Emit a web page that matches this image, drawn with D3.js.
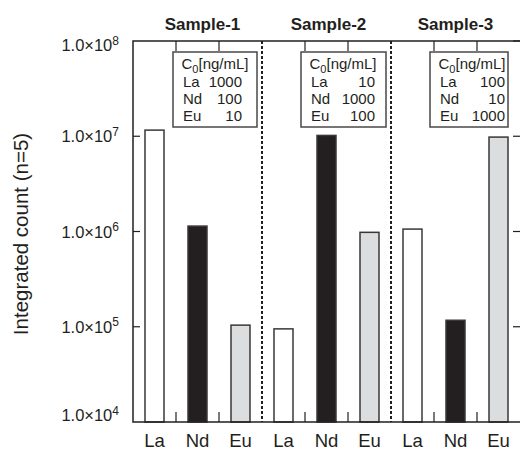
<!DOCTYPE html>
<html>
<head>
<meta charset="utf-8">
<script src="https://cdn.jsdelivr.net/npm/d3@7"></script>
<style>
  body { margin: 0; background: #fff; }
  text { font-family: "Liberation Sans", Arial, sans-serif; fill: #231f20; }
</style>
</head>
<body>
<div id="chart"></div>
<script>
var samples = ["Sample-1", "Sample-2", "Sample-3"];
var elements = ["La", "Nd", "Eu"];
// integrated counts per sample, in element order
var counts = [
  [1.16e7, 1.14e6, 1.04e5],
  [9.5e4, 1.02e7, 9.8e5],
  [1.06e6, 1.17e5, 9.8e6]
];
// C0 [ng/mL] per sample, in element order
var conc = [
  [1000, 100, 10],
  [10, 1000, 100],
  [100, 10, 1000]
];
var yTicks = [1e4, 1e5, 1e6, 1e7, 1e8];
var yTickExp = [4, 5, 6, 7, 8];

var W = 520, H = 455;
var pLeft = 133, pRight = 520, pTop = 41, pBottom = 422;
var ink = "#231f20";
var fills = {La: "#ffffff", Nd: "#231f20", Eu: "#dcdddf"};

var svg = d3.select("#chart").append("svg")
  .attr("width", W)
  .attr("height", H);

var rows = [];
samples.forEach(function(s, i) {
  elements.forEach(function(e, j) {
    rows.push({sample: s, el: e, key: s + "|" + e, value: counts[i][j]});
  });
});

var x = d3.scaleBand()
  .domain(rows.map(function(d) { return d.key; }))
  .range([pLeft, pRight])
  .paddingInner(0.558)
  .paddingOuter(0.279);
var step = x.step();

var y = d3.scaleLog().domain([1e4, 1e8]).range([pBottom, pTop]);

//bars
svg.selectAll(".bar")
  .data(rows)
  .enter().append("rect")
  .attr("class", "bar")
  .attr("x", function(d) { return x(d.key); })
  .attr("width", x.bandwidth())
  .attr("y", function(d) { return y(d.value); })
  .attr("height", function(d) { return y(1e4) - y(d.value); })
  .style("fill", function(d) { return fills[d.el]; })
  .style("stroke", "#3a3738")
  .style("stroke-width", 1.5);

//frame
svg.append("path")
  .attr("d", "M" + pRight + "," + pTop + "H" + pLeft + "V" + pBottom + "H" + pRight)
  .style("fill", "none")
  .style("stroke", ink)
  .style("stroke-width", 1.5);

//slot boundaries: ticks at top and bottom, dotted between samples
var bounds = d3.range(1, 9).map(function(k) { return pLeft + k * step; });
bounds.forEach(function(bx, k) {
  if ((k + 1) % 3 === 0) {
    svg.append("line")
      .attr("x1", bx).attr("x2", bx)
      .attr("y1", pTop).attr("y2", pBottom)
      .style("stroke", ink)
      .style("stroke-width", 2)
      .style("stroke-dasharray", "3,2");
  } else {
    svg.append("line")
      .attr("x1", bx).attr("x2", bx)
      .attr("y1", pTop).attr("y2", pTop + 10)
      .style("stroke", ink).style("stroke-width", 1.2);
    svg.append("line")
      .attr("x1", bx).attr("x2", bx)
      .attr("y1", pBottom).attr("y2", pBottom - 10)
      .style("stroke", ink).style("stroke-width", 1.2);
  }
});

//y ticks, left and right
yTicks.forEach(function(t, i) {
  if (i > 0 && i < yTicks.length - 1) {
    svg.append("line")
      .attr("x1", pLeft).attr("x2", pLeft + 7)
      .attr("y1", y(t)).attr("y2", y(t))
      .style("stroke", ink).style("stroke-width", 1.2);
  }
  if (i > 0) {
    svg.append("line")
      .attr("x1", pRight).attr("x2", pRight - 7)
      .attr("y1", y(t)).attr("y2", y(t))
      .style("stroke", ink).style("stroke-width", 1.2);
  }
  var dy = i === 0 ? -1 : (i === yTicks.length - 1 ? 10 : 6);
  var lab = svg.append("text")
    .attr("x", pLeft - 14)
    .attr("y", y(t) + dy)
    .style("text-anchor", "end")
    .style("font-size", "16.5px");
  lab.append("tspan").text("1.0\u00d710");
  lab.append("tspan")
    .attr("dy", -6.5)
    .style("font-size", "12px")
    .text(yTickExp[i]);
});

//y axis label
svg.append("text")
  .attr("transform", "translate(28," + 234 + ") rotate(-90)")
  .style("text-anchor", "middle")
  .style("font-size", "20.5px")
  .text("Integrated count (n=5)");

//category labels
svg.selectAll(".cat")
  .data(rows)
  .enter().append("text")
  .attr("class", "cat")
  .attr("x", function(d) { return x(d.key) + x.bandwidth() / 2; })
  .attr("y", 447)
  .style("text-anchor", "middle")
  .style("font-size", "18.5px")
  .text(function(d) { return d.el; });

//sample titles
var titleDx = [5, 2, 0];
samples.forEach(function(s, i) {
  svg.append("text")
    .attr("x", pLeft + step * (3 * i + 1.5) + titleDx[i])
    .attr("y", 30)
    .style("text-anchor", "middle")
    .style("font-size", "17px")
    .style("font-weight", "bold")
    .text(s);
});

//concentration boxes
var boxes = [
  {dx: 40, w: 84, numRight: 69},
  {dx: 39, w: 85, numRight: 74},
  {dx: 39, w: 78, numRight: 75}
];
samples.forEach(function(s, i) {
  var b = boxes[i];
  var bx = pLeft + step * 3 * i + b.dx;
  var by = 52;
  svg.append("rect")
    .attr("x", bx).attr("y", by)
    .attr("width", b.w).attr("height", 75)
    .style("fill", "#fff")
    .style("stroke", "#4a4748")
    .style("stroke-width", 1.5);
  var head = svg.append("text")
    .attr("x", bx + 8.5)
    .attr("y", by + 16.5)
    .style("font-size", "15px");
  head.append("tspan").text("C");
  head.append("tspan").attr("dy", 4).style("font-size", "11px").text("0");
  head.append("tspan").attr("dy", -4).text("[ng/mL]");
  elements.forEach(function(e, j) {
    var ty = by + 35 + j * 16.8;
    svg.append("text")
      .attr("x", bx + 10)
      .attr("y", ty)
      .style("font-size", "15px")
      .text(e);
    svg.append("text")
      .attr("x", bx + b.numRight)
      .attr("y", ty)
      .style("text-anchor", "end")
      .style("font-size", "15px")
      .text(conc[i][j]);
  });
});
</script>
</body>
</html>
